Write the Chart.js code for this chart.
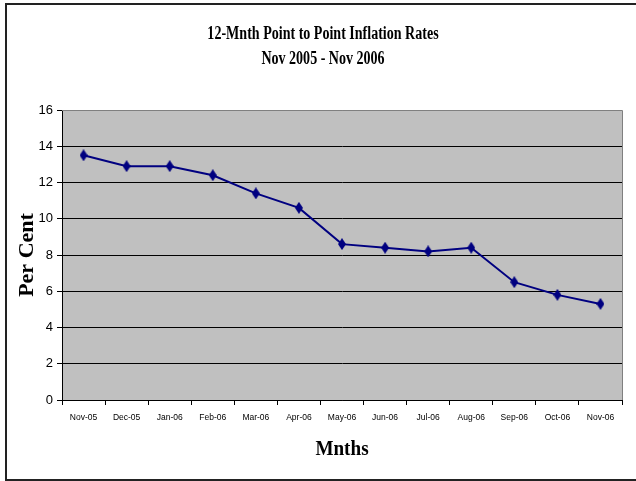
<!DOCTYPE html>
<html>
<head>
<meta charset="utf-8">
<script src="https://cdn.jsdelivr.net/npm/chart.js@4.4.1/dist/chart.umd.min.js"></script>
<style>
  html, body { margin: 0; padding: 0; background: #fff; }
  canvas { display: block; }
</style>
</head>
<body>
<canvas id="myChart" width="636" height="481"></canvas>
<script>
const months = ['Nov-05', 'Dec-05', 'Jan-06', 'Feb-06', 'Mar-06', 'Apr-06', 'May-06',
  'Jun-06', 'Jul-06', 'Aug-06', 'Sep-06', 'Oct-06', 'Nov-06'];
const inflation = [13.5, 12.9, 12.9, 12.4, 11.4, 10.6, 8.6, 8.4, 8.2, 8.4, 6.5, 5.8, 5.3];
const yMin = 0;
const yMax = 16;
const yStep = 2;
const titleLines = ['12-Mnth Point to Point Inflation Rates', 'Nov 2005 - Nov 2006'];

// tall diamond marker like the old excel one
const marker = document.createElement('canvas');
marker.width = 8;
marker.height = 12;
const mctx = marker.getContext('2d');
mctx.fillStyle = '#000080';
mctx.beginPath();
mctx.moveTo(4, 0);
mctx.lineTo(8, 6);
mctx.lineTo(4, 12);
mctx.lineTo(0, 6);
mctx.closePath();
mctx.fill();

// squeeze a draw call horizontally (the reference text is condensed),
// moving its centre from fromX to toX
function squeeze(ctx, fromX, toX, k, fn) {
  ctx.save();
  ctx.translate(toX, 0);
  ctx.scale(k, 1);
  ctx.translate(-fromX, 0);
  fn();
  ctx.restore();
}

const framePlugin = {
  id: 'frame',
  afterLayout(chart) {
    const ctx = chart.ctx;
    const tb = chart.titleBlock;
    if (tb && !tb._squeezed) {
      const draw = tb.draw.bind(tb);
      tb.draw = () => squeeze(ctx, tb.left + tb.width / 2, 323, 0.78, draw);
      tb._squeezed = true;
    }
    const xs = chart.scales.x;
    if (xs && !xs._squeezed) {
      const drawTitle = xs.drawTitle.bind(xs);
      xs.drawTitle = () => {
        const c = (xs.left + xs.right) / 2;
        squeeze(ctx, c, c, 0.87, drawTitle);
      };
      xs._squeezed = true;
    }
  },
  beforeDraw(chart) {
    const { ctx, chartArea: a } = chart;
    ctx.save();
    ctx.fillStyle = '#fff';
    ctx.fillRect(0, 0, chart.width, chart.height);
    ctx.fillStyle = '#c0c0c0';
    ctx.fillRect(a.left, a.top, a.right - a.left, a.bottom - a.top);
    ctx.restore();
  },
  afterDraw(chart) {
    const { ctx, chartArea: a } = chart;
    ctx.save();
    ctx.strokeStyle = '#808080';
    ctx.lineWidth = 1;
    ctx.beginPath();
    ctx.moveTo(a.left, a.top + 0.5);
    ctx.lineTo(a.right + 0.5, a.top + 0.5);
    ctx.lineTo(a.right + 0.5, a.bottom);
    ctx.stroke();
    ctx.strokeStyle = '#222';
    ctx.lineWidth = 2;
    ctx.strokeRect(6, 4, 660, 476);
    ctx.restore();
  }
};

new Chart(document.getElementById('myChart'), {
  type: 'line',
  data: {
    labels: months,
    datasets: [{
      data: inflation,
      borderColor: '#000080',
      backgroundColor: '#000080',
      borderWidth: 2,
      pointStyle: marker,
      tension: 0,
    }],
  },
  options: {
    responsive: false,
    animation: false,
    layout: { padding: { left: 0, right: 14, top: 0, bottom: 0 } },
    plugins: {
      legend: { display: false },
      tooltip: { enabled: false },
      title: {
        display: true,
        text: titleLines,
        color: '#000',
        font: { family: 'Liberation Serif', size: 18, weight: 'bold', lineHeight: '25px' },
        padding: { top: 22, bottom: 38 },
      },
    },
    scales: {
      x: {
        offset: true,
        afterFit: (scale) => { scale.height = 81; },
        grid: {
          offset: true,
          drawOnChartArea: false,
          drawTicks: true,
          tickLength: 5,
          color: '#000',
        },
        border: { color: '#000', width: 1 },
        ticks: {
          color: '#000',
          padding: 8,
          maxRotation: 0,
          autoSkip: false,
          font: { family: 'Liberation Sans', size: 8.5 },
        },
        title: {
          display: true,
          text: 'Mnths',
          color: '#000',
          font: { family: 'Liberation Serif', size: 22, weight: 'bold' },
          padding: { top: 0, bottom: 18.3 },
        },
      },
      y: {
        min: yMin,
        max: yMax,
        afterFit: (scale) => { scale.width = 62; },
        grid: {
          color: (c) => (c.tick && c.tick.value === yMax ? '#808080' : '#000'),
          tickColor: '#000',
          tickLength: 5,
        },
        border: { color: '#000', width: 1 },
        ticks: {
          stepSize: yStep,
          color: '#000',
          padding: 4,
          font: { family: 'Liberation Sans', size: 13 },
        },
        title: {
          display: true,
          text: 'Per Cent',
          color: '#000',
          font: { family: 'Liberation Serif', size: 22, weight: 'bold' },
          padding: { top: 14.5, bottom: 0 },
        },
      },
    },
  },
  plugins: [framePlugin],
});
</script>
</body>
</html>
